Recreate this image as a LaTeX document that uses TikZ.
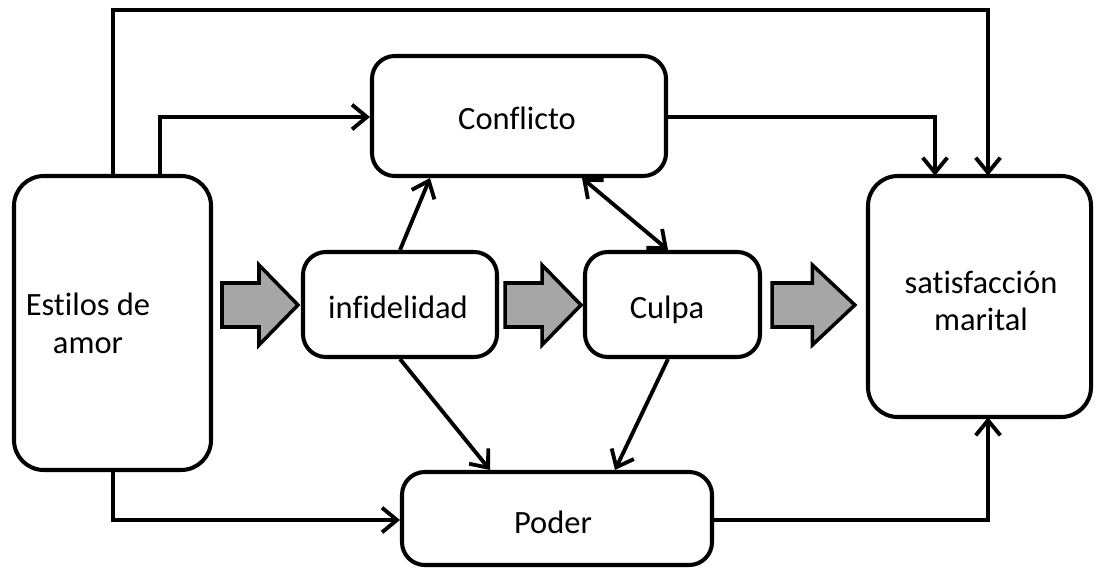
\documentclass[tikz,border=0pt]{standalone}
\usepackage{fontspec}
\setmainfont[Ligatures=CommonOff]{Carlito}
\usetikzlibrary{arrows.meta}
\begin{document}
\begin{tikzpicture}[x=0.02cm,y=-0.02cm,
  box/.style={draw,line width=2.3pt,rounded corners=13pt,inner sep=0pt},
  lbl/.style={font=\fontsize{18.5}{21.5}\selectfont,align=center},
  link/.style={line width=2.2pt,-{Straight Barb[length=8.5pt,width=14pt,line width=2.2pt]}},
  twoway/.style={line width=2.2pt,{Straight Barb[length=8.5pt,width=14pt,line width=2.2pt]}-{Straight Barb[length=8.5pt,width=14pt,line width=2.2pt]}},
  fatarrow/.pic={\draw[fill=black!35,line width=2pt,line join=miter]
    (0,-22)--(37,-22)--(37,-40)--(76,0)--(37,40)--(37,22)--(0,22)--cycle;}]
\useasboundingbox (0,0) rectangle (1104,571);

% boxes
\draw[box,rounded corners=17pt] (14,176) rectangle (211,470);
\node (estilos) [minimum width=197*0.02cm,minimum height=294*0.02cm] at (112.5,323) {};
\node[lbl] (estilostxt) at (88,323) {Estilos de\\amor};

\node[box,minimum width=294*0.02cm,minimum height=120*0.02cm] (conf) at (519,116) {};
\node[lbl] at (517,118) {Conflicto};

\node[box,minimum width=194*0.02cm,minimum height=105*0.02cm] (inf) at (400,304.5) {};
\node[lbl] at (398,307) {infidelidad};

\node[box,minimum width=175*0.02cm,minimum height=105*0.02cm] (culpa) at (672.5,304.5) {};
\node[lbl] at (667,310) {Culpa};

\node[box,minimum width=310*0.02cm,minimum height=93*0.02cm] (poder) at (557,518.5) {};
\node[lbl] at (553,522) {Poder};

\draw[box,rounded corners=17pt] (868,176) rectangle (1091,417);
\node (sat) [minimum width=223*0.02cm,minimum height=241*0.02cm] at (979.5,296.5) {};
\node[lbl] at (981,301) {satisfacción\\marital};

% corner points of the outer routes
\coordinate (topL) at (113,10);
\coordinate (topR) at (988,10);
\coordinate (cL) at (160,117);
\coordinate (cR) at (935,117);
\coordinate (pL) at (113,520);
\coordinate (pR) at (988,520);

% connectors
\draw[link] (estilos.north -| topL) -- (topL) -- (topR) -- (sat.north -| topR);
\draw[link] (estilos.north -| cL) -- (cL) -- (conf.west |- cL);
\draw[link] (conf.east |- cR) -- (cR) -- (sat.north -| cR);
\draw[link] (estilos.south -| pL) -- (pL) -- (poder.west |- pL);
\draw[link] (poder.east |- pR) -- (pR) -- (sat.south -| pR);

\draw[link] (inf.north -| 400,0) -- (conf.south -| 430,0);
\draw[twoway] (conf.south -| 582,0) -- (culpa.north -| 668,0);
\draw[link] (inf.south -| 400,0) -- (poder.north -| 490,0);
\draw[link] (culpa.south -| 668,0) -- (poder.north -| 615,0);

% wide block arrows
\pic at (222,305) {fatarrow};
\pic at (505,305) {fatarrow};
\pic[xscale=1.09] at (772,305) {fatarrow};
\end{tikzpicture}
\end{document}
